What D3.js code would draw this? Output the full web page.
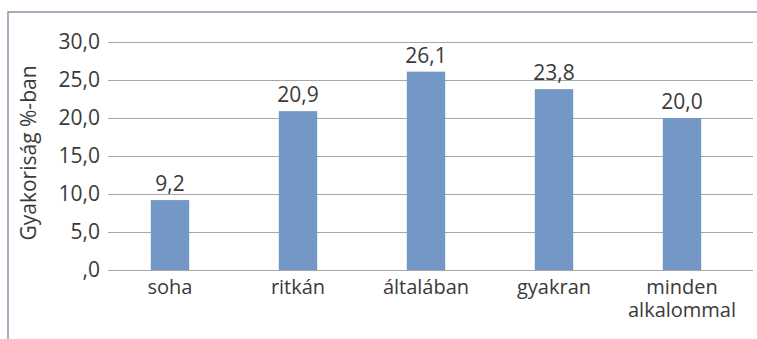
<!DOCTYPE html>
<html>
<head>
<meta charset="utf-8">
<script src="https://cdn.jsdelivr.net/npm/d3@7"></script>
<style>
  html, body { margin: 0; padding: 0; background: #fff; }
  svg { display: block; }
  text { font-family: "Open Sans", Lato, sans-serif; fill: #3a3a3a; }
</style>
</head>
<body>
<svg id="chart" width="757" height="339"></svg>
<script>
// Frequency of responses, in percent
const categories = ["soha", "ritkán", "általában", "gyakran", "minden alkalommal"];
const values = [9.2, 20.9, 26.1, 23.8, 20.0];
const yTicks = [0, 5, 10, 15, 20, 25, 30];
const yTitle = "Gyakoriság %-ban";

const svg = d3.select("#chart");
const fmt = v => d3.format(".1f")(v).replace(/^0\./, ".").replace(".", ",");
const FS = 21;

// frame (top and left rules)
svg.append("path")
  .attr("d", "M8,339 L8,12 L757,12")
  .attr("fill", "none")
  .attr("stroke", "#8595a6")
  .attr("stroke-width", 1.5);

const x = d3.scaleBand().domain(categories).range([106, 746]).paddingInner(0.7).paddingOuter(0.35);
const y = d3.scaleLinear().domain([0, 30]).range([270, 42]);
const gridX0 = 108, gridX1 = 753;

// horizontal gridlines and y tick labels
const yAxis = d3.axisLeft(y).tickValues(yTicks).tickSize(0).tickPadding(8).tickFormat(fmt);
const gy = svg.append("g").attr("transform", `translate(${gridX0},0)`).call(yAxis);
gy.select(".domain").remove();
gy.selectAll(".tick text").attr("font-size", FS).attr("fill", "#3a3a3a")
  .style("font-family", "'Open Sans', sans-serif");
gy.selectAll(".tick").append("line")
  .attr("x1", 0).attr("x2", gridX1 - gridX0)
  .attr("stroke", "#a6a6a6").attr("stroke-width", 1.2);

// bars
svg.append("g").selectAll("rect")
  .data(categories)
  .join("rect")
  .attr("x", d => x(d))
  .attr("width", x.bandwidth())
  .attr("y", (d, i) => y(values[i]))
  .attr("height", (d, i) => y(0) - y(values[i]))
  .attr("fill", "#7398c5");

// value labels
svg.append("g").selectAll("text")
  .data(categories)
  .join("text")
  .attr("x", d => x(d) + x.bandwidth() / 2)
  .attr("y", (d, i) => y(values[i]) - 9)
  .attr("text-anchor", "middle")
  .attr("font-size", FS)
  .text((d, i) => fmt(values[i]));

// category labels (long names wrapped onto two lines)
categories.forEach(d => {
  const cx = x(d) + x.bandwidth() / 2;
  d.split(" ").forEach((w, k) => {
    svg.append("text")
      .attr("x", cx)
      .attr("y", 294 + k * 23)
      .attr("text-anchor", "middle")
      .attr("font-size", 20)
      .text(w);
  });
});

// y axis title
svg.append("text")
  .attr("transform", "translate(36,153) rotate(-90)")
  .attr("text-anchor", "middle")
  .attr("font-size", FS)
  .text(yTitle);
</script>
</body>
</html>
